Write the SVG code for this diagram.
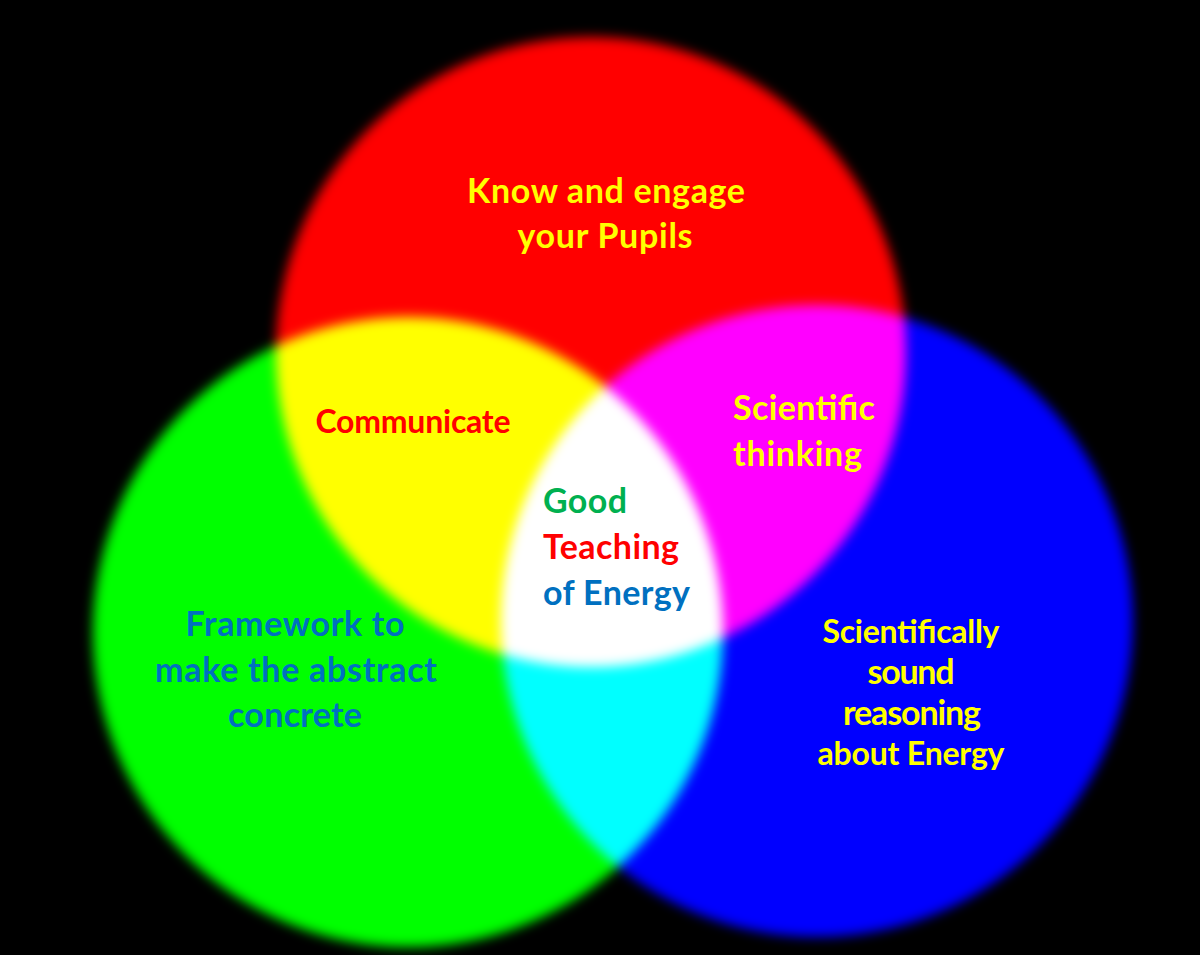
<svg xmlns="http://www.w3.org/2000/svg" width="1200" height="955" viewBox="0 0 1200 955">
  <defs>
    <filter id="soft" x="-10%" y="-10%" width="120%" height="120%">
      <feGaussianBlur stdDeviation="6"/>
    </filter>
  </defs>
  <style>
    .c { mix-blend-mode: screen; filter: url(#soft); }
    text { font-family: Lato, "Open Sans", "Liberation Sans", sans-serif; font-weight: 700; font-size: 34px; }
    .sm { font-size: 32px; }
    .mid { text-anchor: middle; }
    .yel { fill: #FFFF00; }
    .red { fill: #FF0000; }
    .grn { fill: #00B050; }
    .blu { fill: #0070C0; }
  </style>
  <rect width="1200" height="955" fill="#000"/>
  <g id="circles" style="isolation:isolate">
    <rect width="1200" height="955" fill="#000"/>
    <circle id="circle-red" class="c" cx="591" cy="352" r="315" fill="#FF0000"/>
    <circle id="circle-green" class="c" cx="408" cy="632" r="315" fill="#00FF00"/>
    <circle id="circle-blue" class="c" cx="817" cy="621" r="316" fill="#0000FF"/>
  </g>
  <g id="connectors"/>
  <g id="pupils">
    <text class="mid yel" x="606" y="203" textLength="278">Know and engage</text>
    <text class="mid yel" x="605" y="248" textLength="175">your Pupils</text>
  </g>
  <g id="communicate">
    <text class="mid red sm" x="413" y="433" textLength="195">Communicate</text>
  </g>
  <g id="scientific-thinking">
    <text class="yel" x="733" y="420" textLength="142">Scientific</text>
    <text class="yel" x="733" y="466" textLength="129">thinking</text>
  </g>
  <g id="good-teaching">
    <text class="grn" x="543" y="513" textLength="84">Good</text>
    <text class="red" x="543" y="559" textLength="136">Teaching</text>
    <text class="blu" x="543" y="605" textLength="147">of Energy</text>
  </g>
  <g id="framework">
    <text class="mid blu" x="295" y="636" textLength="219">Framework to</text>
    <text class="mid blu" x="296" y="682" textLength="282">make the abstract</text>
    <text class="mid blu" x="295" y="727" textLength="134">concrete</text>
  </g>
  <g id="reasoning">
    <text class="mid yel sm" x="911" y="643" textLength="177">Scientifically</text>
    <text class="mid yel" x="911" y="684" textLength="87">sound</text>
    <text class="mid yel" x="912" y="725" textLength="138">reasoning</text>
    <text class="mid yel sm" x="911" y="765" textLength="187">about Energy</text>
  </g>
</svg>
